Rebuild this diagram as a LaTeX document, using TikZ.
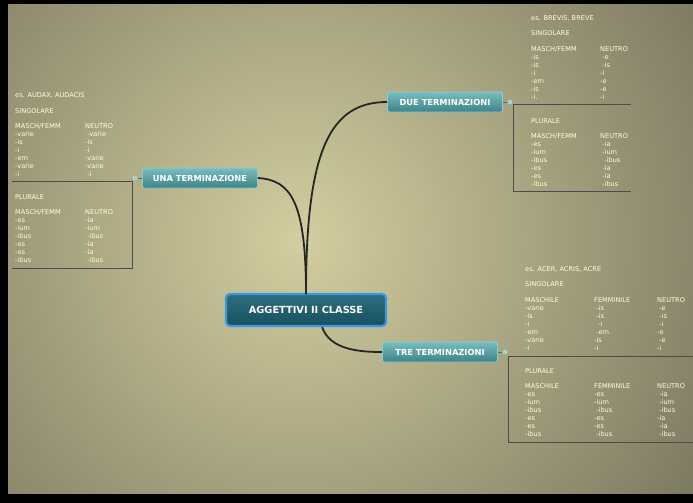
\documentclass[tikz,border=0pt]{standalone}
\usepackage{fontspec}
\setmainfont{DejaVu Sans}
\definecolor{brA}{RGB}{120,190,192}
\definecolor{brB}{RGB}{60,130,135}
\definecolor{rtA}{RGB}{45,110,125}
\definecolor{rtB}{RGB}{25,80,95}
\begin{document}
\begin{tikzpicture}[x=1pt,y=-1pt,
  txt/.style={anchor=west,inner sep=0pt,text height=4.8pt,text depth=1.4pt,text=white!85!yellow,font=\fontsize{6.6}{7}\selectfont},
  branch/.style={rounded corners=2pt,draw=brA!80!white,line width=0.8pt,top color=brA,bottom color=brB,text=white,font=\bfseries\fontsize{8.3}{9}\selectfont,minimum width=115pt,minimum height=20pt},
  root/.style={rounded corners=4pt,draw={rgb,255:red,60;green,150;blue,230},line width=2.2pt,top color=rtA,bottom color=rtB,text=white,font=\bfseries\fontsize{9.8}{11}\selectfont,minimum width=160pt,minimum height=32pt},
  conn/.style={draw=black!85,line width=1.8pt},
  frame/.style={draw=black!70,line width=1pt},
  dot/.style={circle,fill=brA!70!white,inner sep=0pt,minimum size=5pt}]
\useasboundingbox (0,0) rectangle (693,503);
\fill[black] (0,0) rectangle (693,503);
\begin{scope}
\clip (8,5) rectangle (693,493);
\shade[inner color={rgb,255:red,210;green,206;blue,160},outer color={rgb,255:red,100;green,98;blue,80}] (300,240) circle (600);
\end{scope}
% nodes
\node[root] (root) at (306,310) {AGGETTIVI II CLASSE};
\node[branch] (una) at (200,178) {UNA TERMINAZIONE};
\node[branch] (due) at (445,102) {DUE TERMINAZIONI};
\node[branch] (tre) at (440,352) {TRE TERMINAZIONI};
\node[dot] (dU) at (135,178) {};
\node[dot] (dD) at (510,102) {};
\node[dot] (dT) at (505,352) {};
% connectors
\draw[conn] (306,294) .. controls (306,200) and (290,180) .. (una.east);
\draw[conn] (306,294) .. controls (306,150) and (330,102) .. (due.west);
\draw[conn] (root.south east) ++(-65,0) .. controls (330,350) and (360,352) .. (tre.west);
\draw[line width=0.6pt,black!60] (dU) -- (una.west) (dD) -- (due.east) (dT) -- (tre.east);
% frames
\coordinate (fU1) at (12,181); \coordinate (fU2) at (132,181); \coordinate (fU3) at (132,268); \coordinate (fU4) at (12,268);
\draw[frame] (fU1) -- (fU2) -- (fU3) -- (fU4);
\coordinate (fD1) at (513,104); \coordinate (fD2) at (631,104); \coordinate (fD3) at (513,191); \coordinate (fD4) at (631,191);
\draw[frame] (fD2) -- (fD1) -- (fD3) -- (fD4);
\coordinate (fT1) at (508,356); \coordinate (fT2) at (693,356); \coordinate (fT3) at (508,442); \coordinate (fT4) at (693,442);
\draw[frame] (fT2) -- (fT1) -- (fT3) -- (fT4);
% left block
\node[txt] (l1) at (15,96) {es. AUDAX, AUDACIS};
\node[txt] (l2) at (15,112) {SINGOLARE};
\foreach \a/\b [count=\i from 0] in {{MASCH/FEMM}/NEUTRO,-varie/\ -varie,-is/-is,-i/-i,-em/-varie,-varie/-varie,-i/\ -i}{
  \node[txt] at (15,127+7.9*\i) {\a}; \node[txt] at (85,127+7.9*\i) {\b};}
\node[txt] (l3) at (15,198) {PLURALE};
\foreach \a/\b [count=\i from 0] in {{MASCH/FEMM}/NEUTRO,-es/-ia,-ium/-ium,-ibus/\ -ibus,-es/-ia,-es/-ia,-ibus/\ -ibus}{
  \node[txt] at (15,213+7.9*\i) {\a}; \node[txt] at (85,213+7.9*\i) {\b};}
% top right block
\node[txt] (d1) at (531,19) {es. BREVIS, BREVE};
\node[txt] (d2) at (531,34) {SINGOLARE};
\foreach \a/\b [count=\i from 0] in {{MASCH/FEMM}/NEUTRO,-is/\ -e,-is/\ -is,-i/-i,-em/-e,-is/-e,-i./-i}{
  \node[txt] at (531,50+7.9*\i) {\a}; \node[txt] at (600,50+7.9*\i) {\b};}
\node[txt] (d3) at (531,122) {PLURALE};
\foreach \a/\b [count=\i from 0] in {{MASCH/FEMM}/NEUTRO,-es/\ -ia,-ium/\ -ium,-ibus/\ \ -ibus,-es/\ -ia,-es/\ -ia,-ibus/\ -ibus}{
  \node[txt] at (531,137+7.9*\i) {\a}; \node[txt] at (600,137+7.9*\i) {\b};}
% bottom right block
\node[txt] (t1) at (525,270) {es. ACER, ACRIS, ACRE};
\node[txt] (t2) at (525,285) {SINGOLARE};
\foreach \a/\b/\c [count=\i from 0] in {MASCHILE/FEMMINILE/NEUTRO,-varie/\ -is/\ -e,-is/\ -is/\ -is,-i/\ \ -i/\ -i,-em/\ -em/-e,-varie/-is/\ -e,-i/-i/-i}{
  \node[txt] at (525,301+7.9*\i) {\a}; \node[txt] at (594,301+7.9*\i) {\b}; \node[txt] at (657,301+7.9*\i) {\c};}
\node[txt] (t3) at (525,372) {PLURALE};
\foreach \a/\b/\c [count=\i from 0] in {MASCHILE/FEMMINILE/NEUTRO,-es/-es/\ -ia,-ium/-ium/\ -ium,-ibus/\ -ibus/\ -ibus,-es/-es/-ia,-es/-es/\ -ia,-ibus/\ -ibus/\ -ibus}{
  \node[txt] at (525,387+7.9*\i) {\a}; \node[txt] at (594,387+7.9*\i) {\b}; \node[txt] at (657,387+7.9*\i) {\c};}
\end{tikzpicture}
\end{document}
